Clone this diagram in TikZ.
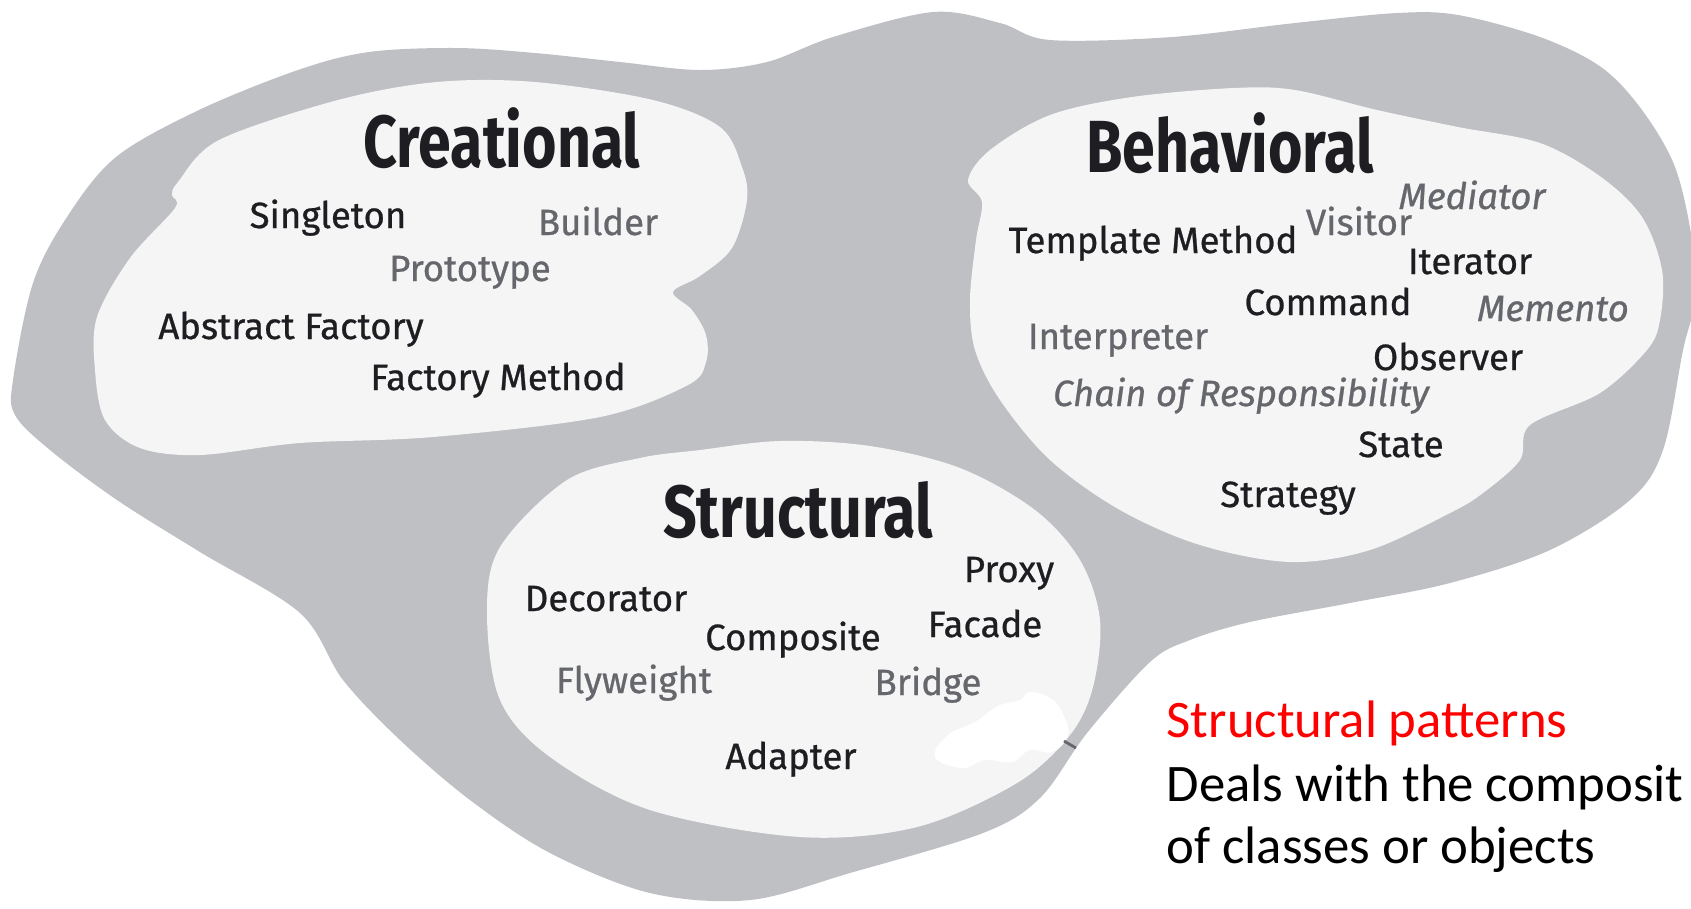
\documentclass[tikz,border=0pt]{standalone}
\usepackage{fontspec}
\setmainfont{Fira Sans}
\newfontfamily\headfont[FakeStretch=0.8]{Fira Sans}
\newfontfamily\patfont[FakeBold=0.7]{Fira Sans}
\newfontfamily\notefont{Carlito}
\usepackage{tikz}

\begin{document}
\begin{tikzpicture}[
                    x=0.01cm, y=-0.01cm,
                    group/.style = {
                        font=\headfont\bfseries\fontsize{21}{24}\selectfont, text=inkdark, anchor=base, inner sep=0pt
                    },
                    pat/.style = {
                        font=\patfont\fontsize{10.4}{12}\selectfont, text=inkdark, anchor=base, inner sep=0pt
                    },
                    faded/.style = {pat, text=inkgray},
                    slanted/.style = {faded, font=\patfont\itshape\fontsize{10.4}{12}\selectfont},
                    note/.style = {font=\notefont\fontsize{15}{18}\selectfont, anchor=base west, inner sep=0pt}
                ]
                    % Colours
                    \definecolor{blobgray}{HTML}{BFC0C4}
                    \definecolor{blobwhite}{HTML}{F5F5F5}
                    \definecolor{inkdark}{HTML}{1E1E22}
                    \definecolor{inkgray}{HTML}{66676C}

                    \useasboundingbox (0,0) rectangle (1691,908);
                    \clip (0,0) rectangle (1691,908);

                    % Outer grey cloud
                    \fill[blobgray] plot[smooth cycle, tension=0.55] coordinates {
                        (13,380) (33,283) (67,217) (116,157) (199,110) (298,70) (369,52)
                        (456,48) (535,53) (620,62) (700,70) (767,62) (833,37) (933,12)
                        (1000,23) (1050,40) (1172,37) (1295,23) (1397,13) (1458,15)
                        (1540,37) (1601,67) (1642,110) (1675,167) (1692,240) (1695,300)
                        (1683,350) (1663,450) (1630,500) (1550,550) (1450,583) (1350,603)
                        (1250,622) (1190,640) (1150,662) (1087,733) (1040,798) (983,833)
                        (850,873) (750,900) (650,893) (550,853) (470,800) (400,740)
                        (343,680) (300,613) (200,552) (117,500) (50,450) (15,415)};

                    % Creational area
                    \fill[blobwhite] plot[smooth cycle, tension=0.55] coordinates {
                        (178,182) (219,140) (338,100) (437,82) (535,82) (653,100)
                        (720,127) (742,167) (747,200) (732,248) (700,276) (673,292)
                        (692,310) (706,335) (706,362) (688,385) (600,417) (433,437)
                        (300,443) (200,455) (140,448) (105,420) (95,370) (97,317)
                        (130,258) (175,208) (172,195)};

                    % Behavioral area
                    \fill[blobwhite] plot[smooth cycle, tension=0.55] coordinates {
                        (990,150) (1050,115) (1132,97) (1234,88) (1295,90) (1377,110)
                        (1458,127) (1540,143) (1601,177) (1642,217) (1662,270) (1660,320)
                        (1647,350) (1600,393) (1530,425) (1520,460) (1483,493) (1450,513)
                        (1370,550) (1290,562) (1200,545) (1120,510) (1050,460) (1000,400)
                        (975,350) (970,300) (976,240) (982,202) (968,180)};

                    % Structural area
                    \fill[blobwhite] plot[smooth cycle, tension=0.55] coordinates {
                        (640,458) (700,450) (780,441) (870,446) (960,468) (1035,510)
                        (1080,560) (1100,620) (1093,687) (1070,735) (1017,783) (917,827)
                        (800,837) (650,810) (550,757) (500,700) (487,613) (500,547)
                        (567,480)};

                    % white smudge near Bridge
                    \fill[white] plot[smooth cycle, tension=0.7] coordinates {
                        (935,757) (948,735) (975,722) (998,706) (1020,700) (1030,692)
                        (1050,698) (1062,712) (1068,735) (1052,752) (1030,750) (1012,762)
                        (985,760) (962,768)};
                    \draw[inkgray, line width=0.8pt] (1064,741) -- (1076,748);

                    % Group titles
                    \node[group] (crea) at (502,167) {Creational};
                    \node[group] (beha) at (1230,172) {Behavioral};
                    \node[group] (stru) at (798,537) {Structural};

                    % Creational patterns
                    \node[pat] (singleton) at (328,228) {Singleton};
                    \node[faded] (builder) at (598,235) {Builder};
                    \node[faded] (prototype) at (470,281) {Prototype};
                    \node[pat] (absfactory) at (291,339) {Abstract Factory};
                    \node[pat] (factmethod) at (498,390) {Factory Method};

                    % Behavioral patterns
                    \node[slanted] (mediator) at (1472,209) {Mediator};
                    \node[faded] (visitor) at (1359,235) {Visitor};
                    \node[pat] (template) at (1153,253) {Template Method};
                    \node[pat] (iterator) at (1470,274) {Iterator};
                    \node[pat] (command) at (1328,315) {Command};
                    \node[slanted] (memento) at (1553,321) {Memento};
                    \node[faded] (interpreter) at (1118,349) {Interpreter};
                    \node[pat] (observer) at (1448,370) {Observer};
                    \node[slanted] (chain) at (1241,406) {Chain of Responsibility};
                    \node[pat] (state) at (1401,457) {State};
                    \node[pat] (strategy) at (1288,507) {Strategy};

                    % Structural patterns
                    \node[pat] (proxy) at (1009,582) {Proxy};
                    \node[pat] (decorator) at (606,611) {Decorator};
                    \node[pat] (facade) at (985,637) {Facade};
                    \node[pat] (composite) at (793,650) {Composite};
                    \node[faded] (flyweight) at (634,693) {Flyweight};
                    \node[faded] (bridge) at (928,695) {Bridge};
                    \node[pat] (adapter) at (791,769) {Adapter};

                    % Side note
                    \node[note, text=red] (notehead) at (1166,737) {Structural patterns};
                    \node[note] (noteline1) at (1166,801) {Deals with the composit};
                    \node[note] (noteline2) at (1166,863) {of classes or objects};
                \end{tikzpicture}
\end{document}
